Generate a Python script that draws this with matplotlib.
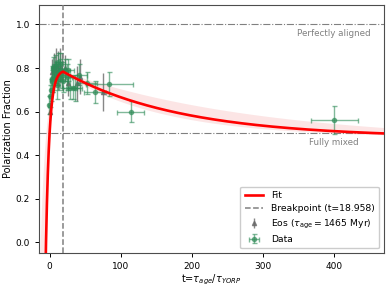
import numpy as np
import matplotlib
matplotlib.use("Agg")
import matplotlib.pyplot as plt

# ---- data ----
data_t    = [-1, 1, 2, 3, 4, 5, 6, 8, 9, 10, 11, 12, 13, 14, 15, 17, 19, 21, 24, 26,
             29, 33, 36, 41, 52, 64, 84, 114, 400]
data_y    = [0.63, 0.67, 0.70, 0.74, 0.75, 0.80, 0.76, 0.81, 0.78, 0.72, 0.77, 0.83, 0.75,
             0.79, 0.82, 0.77, 0.74, 0.79, 0.76, 0.79, 0.71, 0.71, 0.71, 0.77, 0.73, 0.69,
             0.725, 0.60, 0.56]
data_xerr = [1.5, 2, 2, 3, 3, 3, 4, 4, 4, 5, 5, 5, 5, 6, 6, 6, 7, 8, 8, 9, 10, 10, 10,
             12, 14, 16, 33, 19, 33]
data_yerr = [0.04, 0.05, 0.05, 0.05, 0.06, 0.05, 0.06, 0.05, 0.05, 0.06, 0.05, 0.04, 0.05,
             0.05, 0.05, 0.06, 0.05, 0.05, 0.06, 0.05, 0.05, 0.05, 0.06, 0.05, 0.05, 0.05,
             0.055, 0.05, 0.065]

eos_t    = [0, 3, 6, 9, 12, 15, 18, 22, 26, 38, 43, 75]
eos_y    = [0.60, 0.78, 0.80, 0.81, 0.79, 0.81, 0.79, 0.80, 0.73, 0.73, 0.76, 0.69]
eos_yerr = [0.04, 0.06, 0.07, 0.08, 0.09, 0.08, 0.08, 0.06, 0.06, 0.08, 0.08, 0.085]

# fit model parameters: rising part ymax - amp*exp(-t/k), decay asym + (yb-asym)*exp(-(t-tb)/tau)
breakpoint = 18.958
fit_best  = dict(ymax=0.79, amp=0.29, k=4.98, asym=0.48, tau=165)
fit_upper = dict(ymax=0.80, amp=0.17, k=8.0, asym=0.46, tau=280)
fit_lower = dict(ymax=0.78, amp=0.30, k=4.8, asym=0.48, tau=140)

x_ticks = [0, 100, 200, 300, 400]
y_ticks = [0.0, 0.2, 0.4, 0.6, 0.8, 1.0]


def model(t, p, tb=breakpoint):
    rise = p["ymax"] - p["amp"] * np.exp(-t / p["k"])
    yb = p["ymax"] - p["amp"] * np.exp(-tb / p["k"])
    decay = p["asym"] + (yb - p["asym"]) * np.exp(-(t - tb) / p["tau"])
    return np.where(t < tb, rise, decay)


fig = plt.figure(figsize=(3.89, 2.88), dpi=100)
ax = fig.add_axes([0.100, 0.121, 0.887, 0.862])

tt = np.linspace(-20, 480, 2000)
y_fit = model(tt, fit_best)
y_up = model(tt, fit_upper)
y_lo = model(tt, fit_lower)
ax.fill_between(tt, np.minimum(y_lo, y_up), np.maximum(y_lo, y_up),
                color="#f08080", alpha=0.2, lw=0, zorder=1)
ax.plot(tt, y_fit, color="red", lw=1.9, label="Fit", zorder=4)
ax.axvline(breakpoint, color="gray", ls="--", lw=1.1,
           label=f"Breakpoint (t={breakpoint})", zorder=3)

ax.axhline(1.0, color="gray", ls="-.", lw=0.8, zorder=0)
ax.axhline(0.5, color="gray", ls="-.", lw=0.8, zorder=0)
ax.text(400, 0.958, "Perfectly aligned", color="gray", fontsize=6.3,
        ha="center", va="center")
ax.text(400, 0.459, "Fully mixed", color="gray", fontsize=6.3,
        ha="center", va="center")

ax.errorbar(eos_t, eos_y, yerr=eos_yerr, fmt="^", color="dimgray", ms=3,
            elinewidth=1.0, alpha=0.8, label=r"Eos ($\tau_{\rm age}=1465$ Myr)",
            zorder=2)
ax.errorbar(data_t, data_y, xerr=data_xerr, yerr=data_yerr, fmt="o",
            color="#2e8b57", ms=3, elinewidth=1.0, capsize=1.8, alpha=0.6,
            label="Data", zorder=3)

ax.set_xlim(-15, 470)
ax.set_ylim(-0.05, 1.09)
ax.set_xticks(x_ticks)
ax.set_yticks(y_ticks)
ax.tick_params(labelsize=6.5, length=3, width=0.7)
ax.set_xlabel(r"t=$\tau_{age}/\tau_{YORP}$", fontsize=7, labelpad=1)
ax.set_ylabel("Polarization Fraction", fontsize=7, labelpad=2)
for s in ax.spines.values():
    s.set_linewidth(0.8)
    s.set_color("0.3")

ax.legend(loc="lower right", fontsize=6.7, framealpha=1, borderpad=0.5,
          handlelength=2.0, labelspacing=0.45)

fig.savefig("out.png", dpi=100)
